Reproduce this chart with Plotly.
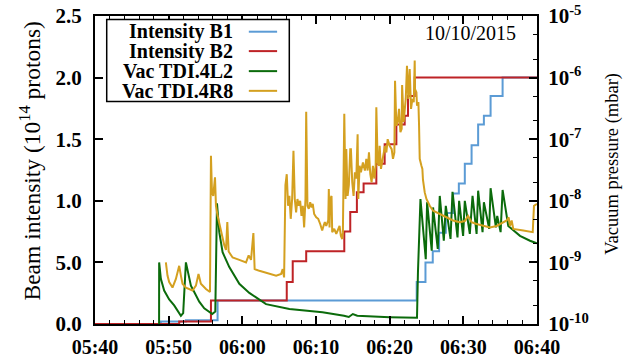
import pandas as pd
import plotly.graph_objects as go

# ---------------- data (minutes after 05:40 on 10/10/2015) ----------------
base_time = "2015-10-10 05:40:00"

b1_min = [0, 8.94, 12.34, 16.64, 43.67, 44.86, 45.85, 46.71, 47.62, 48.61, 49.39,
          50.20, 51.12, 52.01, 52.79, 53.70, 55.33, 60]
b1_val = [0, 0.02, 0.03, 0.19, 0.34, 0.50, 0.59, 0.74, 0.90, 1.06, 1.14,
          1.30, 1.45, 1.62, 1.69, 1.85, 2.00, 1.99]

b2_min = [0, 11.43, 15.74, 26.03, 26.84, 28.67, 33.84, 34.65, 35.55, 36.46, 38.19,
          39.32, 40.91, 42.04, 42.49, 43.40, 60]
b2_val = [0, 0.02, 0.19, 0.34, 0.51, 0.59, 0.75, 0.91, 1.07, 1.14, 1.30,
          1.46, 1.62, 1.69, 1.85, 2.00, 1.99]

l2_min = [8.70, 8.71, 8.94, 9.39, 10.07, 10.75, 11.66, 11.97, 12.34, 13.02, 13.47,
          14.15, 14.83, 15.51, 15.92, 16.33, 16.56, 16.87, 17.32, 18.23, 19.59,
          20.95, 23.22, 26.39, 30.88, 33.80, 34.45, 35.00, 35.60, 40.00, 43.40,
          43.71, 43.84, 44.18, 44.90, 45.08, 45.71, 45.89, 46.53, 46.80, 47.35,
          47.62, 48.26, 48.53, 49.21, 49.43, 49.97, 50.20, 50.88, 51.25, 51.80,
          52.01, 52.61, 52.79, 53.51, 53.70, 54.42, 54.60, 55.06, 55.33, 56.10,
          56.78, 57.69, 59.05, 59.96]
l2_val = [1.0e-10, 1.0e-9, 5.4e-10, 3.5e-10, 2.5e-10, 2.0e-10, 1.36e-10, 1.5e-10, 1.0e-9, 4.2e-10, 3.3e-10,
          2.3e-10, 1.8e-10, 1.57e-10, 1.45e-10, 1.6e-10, 9.1e-9, 3.1e-9, 1.46e-9, 8.4e-10, 4.5e-10,
          3.2e-10, 2.1e-10, 1.75e-10, 1.55e-10, 1.36e-10, 1.3e-10, 1.45e-10, 1.36e-10, 1.29e-10, 1.24e-10,
          1.26e-10, 6.9e-10, 1.07e-8, 1.13e-9, 9.5e-9, 1.55e-9, 7.8e-9, 1.65e-9, 1.2e-8, 2.25e-9,
          8.3e-9, 2.4e-9, 1.4e-8, 2.55e-9, 1.0e-8, 2.7e-9, 1.0e-8, 2.9e-9, 1.2e-8, 2.9e-9,
          1.46e-8, 3.1e-9, 9.5e-9, 3.5e-9, 1.6e-8, 3.7e-9, 5.7e-9, 3.1e-9, 1.5e-8, 3.9e-9,
          3.3e-9, 2.7e-9, 2.25e-9, 2.04e-9]

r8_min = [9.62, 9.84, 10.07, 10.52, 10.98, 11.43, 11.66, 11.88, 12.34, 12.79, 13.24,
          13.70, 14.05, 14.37, 15.06, 15.61, 15.74, 15.88, 16.05, 16.29, 16.42,
          16.64, 17.10, 17.55, 17.78, 17.96, 18.14, 18.68, 19.59, 20.50, 20.86,
          21.18, 21.50, 21.67, 22.31, 23.67, 24.59, 25.27, 25.48, 25.67, 25.85,
          26.03, 26.21, 26.39, 26.57, 26.76, 26.94, 27.12, 27.30, 27.48, 27.66,
          27.85, 28.03, 28.21, 28.39, 28.57, 28.67, 28.84, 29.02, 29.21, 29.39,
          29.56, 29.75, 30.03, 30.30, 30.57, 30.84, 31.02, 31.20, 31.39, 31.66,
          31.74, 31.84, 31.93, 32.11, 32.20, 32.48, 32.75, 33.02, 33.20, 33.37,
          33.56, 33.65, 33.84, 34.01, 34.11, 34.29, 34.46, 34.65, 34.74, 34.92,
          35.10, 35.28, 35.47, 35.65, 35.74, 35.92, 36.10, 36.37, 36.64, 36.83,
          37.01, 37.19, 37.37, 37.55, 37.73, 37.92, 38.10, 38.19, 38.37, 38.54,
          38.64, 38.82, 39.09, 39.36, 39.55, 39.73, 40.00, 40.27, 40.45, 40.64,
          40.73, 40.91, 41.09, 41.27, 41.46, 41.63, 41.69, 41.90, 42.18, 42.35,
          42.53, 42.72, 42.90, 43.08, 43.27, 43.40, 43.44, 43.63, 43.71, 43.90,
          43.99, 44.08, 44.31, 44.44, 44.52, 44.76, 44.99, 45.44, 45.89, 46.80,
          47.71, 48.61, 49.52, 50.20, 50.65, 51.12, 51.80, 52.70, 53.61, 54.52,
          55.41, 55.88, 56.15, 56.33, 56.56, 56.78, 58.14, 59.42, 59.59, 60.00]
r8_val = [1.0e-9, 6.1e-10, 4.8e-10, 3.9e-10, 5.4e-10, 8.8e-10, 6.1e-10, 4.5e-10, 3.9e-10, 3.7e-10, 3.5e-10,
          4.2e-10, 6.5e-10, 4.5e-10, 3.7e-10, 3.3e-10, 5.4e-8, 1.4e-8, 1.2e-8, 2.4e-8, 8.3e-9,
          5.7e-9, 3.1e-9, 1.9e-9, 1.6e-9, 4.5e-9, 1.5e-9, 1.2e-9, 1.1e-9, 1.0e-9, 1.3e-9,
          1.1e-9, 3.0e-9, 7.8e-10, 7.3e-10, 6.5e-10, 6.1e-10, 6.5e-10, 7.8e-10, 5.7e-10, 1.8e-8,
          2.7e-8, 8.3e-9, 1.2e-8, 5.1e-9, 1.07e-8, 6.5e-8, 1.07e-8, 6.5e-9, 1.07e-8, 8.3e-9,
          1.0e-8, 5.7e-9, 8.3e-9, 3.7e-9, 1.07e-8, 2.8e-7, 8.3e-9, 7.4e-9, 9.5e-9, 7.8e-9,
          8.9e-9, 6.1e-9, 5.4e-9, 5.1e-9, 4.2e-9, 3.3e-9, 3.9e-9, 4.5e-9, 3.9e-9, 4.8e-9,
          1.56e-8, 3.7e-9, 1.07e-8, 1.2e-8, 3.1e-9, 3.5e-9, 2.9e-9, 3.5e-9, 3.9e-9, 2.7e-9,
          2.4e-9, 3.1e-9, 2.6e-7, 1.07e-8, 6.9e-8, 1.2e-8, 1.8e-8, 6.9e-8, 6.9e-8, 2.0e-8,
          1.2e-8, 2.9e-8, 2.3e-8, 1.2e-7, 1.07e-8, 3.7e-8, 2.9e-8, 4.2e-8, 3.1e-8, 4.8e-8,
          3.1e-8, 6.1e-8, 2.7e-8, 2.0e-8, 3.7e-8, 2.3e-8, 3.7e-8, 3.3e-7, 4.2e-8, 3.7e-8,
          7.8e-8, 3.3e-8, 4.8e-8, 7.8e-8, 6.1e-8, 1.0e-7, 7.8e-8, 6.9e-8, 4.8e-8, 6.1e-8,
          8.9e-7, 1.66e-7, 1.9e-7, 3.1e-7, 1.3e-7, 1.47e-7, 7.6e-7, 1.9e-7, 4.5e-7, 1.56e-6,
          4.5e-7, 1.38e-6, 3.1e-7, 4.5e-7, 4.0e-7, 1.9e-6, 6.5e-7, 5.8e-7, 3.5e-7, 4.0e-7,
          1.66e-7, 4.8e-8, 3.7e-8, 3.3e-8, 2.2e-8, 1.37e-8, 1.07e-8, 8.3e-9, 6.9e-9, 6.1e-9,
          5.4e-9, 4.8e-9, 4.5e-9, 4.7e-9, 5.7e-9, 4.5e-9, 4.2e-9, 3.9e-9, 3.7e-9, 3.9e-9,
          4.5e-9, 4.8e-9, 5.4e-9, 3.9e-9, 4.8e-9, 3.5e-9, 3.3e-9, 3.1e-9, 8.3e-9, 8.9e-9]

series_names = ["Intensity B1", "Intensity B2", "Vac TDI.4L2", "Vac TDI.4R8"]
series_colors = ["#5b9bd5", "#be2326", "#0b6b0b", "#d4a020"]

left_tickvals = [0.0, 0.5, 1.0, 1.5, 2.0, 2.5]
left_ticktext = ["0.0", "5.0", "1.0", "1.5", "2.0", "2.5"]
right_tickvals = [1e-10, 1e-9, 1e-8, 1e-7, 1e-6, 1e-5]
right_ticktext = ["10<sup>-10</sup>", "10<sup>-9</sup>", "10<sup>-8</sup>",
                  "10<sup>-7</sup>", "10<sup>-6</sup>", "10<sup>-5</sup>"]
date_label = "10/10/2015"


def to_time(mins):
    t0 = pd.Timestamp(base_time)
    return [t0 + pd.Timedelta(minutes=m) for m in mins]


FONT = "Liberation Serif"
fig = go.Figure()
fig.add_trace(go.Scatter(x=to_time(b1_min), y=b1_val, name=series_names[0], mode="lines",
                         line=dict(color=series_colors[0], width=2, shape="hv"), yaxis="y"))
fig.add_trace(go.Scatter(x=to_time(b2_min), y=b2_val, name=series_names[1], mode="lines",
                         line=dict(color=series_colors[1], width=2, shape="hv"), yaxis="y"))
fig.add_trace(go.Scatter(x=to_time(l2_min), y=l2_val, name=series_names[2], mode="lines",
                         line=dict(color=series_colors[2], width=2), yaxis="y2"))
fig.add_trace(go.Scatter(x=to_time(r8_min), y=r8_val, name=series_names[3], mode="lines",
                         line=dict(color=series_colors[3], width=2), yaxis="y2"))

fig.update_layout(
    width=633, height=360,
    margin=dict(l=95, r=96, t=16, b=36),
    plot_bgcolor="white", paper_bgcolor="white",
    showlegend=False,
    font=dict(family=FONT, color="black"),
    xaxis=dict(
        type="date", automargin=False, ticklabeloverflow="allow",
        range=[pd.Timestamp(base_time), pd.Timestamp(base_time) + pd.Timedelta(minutes=60)],
        tickformat="%H:%M", dtick=600000, tick0=pd.Timestamp(base_time),
        ticks="inside", ticklen=8, tickwidth=1.5, tickcolor="black",
        minor=dict(ticks="inside", ticklen=4, dtick=120000, tickcolor="black", tickwidth=1),
        showline=True, linecolor="black", linewidth=2, mirror="ticks",
        showgrid=False, zeroline=False, ticklabelstandoff=4,
        tickfont=dict(family=FONT, size=20, color="black", weight="bold"),
    ),
    yaxis=dict(
        automargin=False, ticklabeloverflow="allow",
        range=[0, 2.5], tickvals=left_tickvals, ticktext=left_ticktext,
        ticks="inside", ticklen=8, tickwidth=1.5, tickcolor="black",
        showline=True, linecolor="black", linewidth=2, mirror=False,
        showgrid=False, zeroline=False, ticklabelstandoff=7,
        tickfont=dict(family=FONT, size=21, color="black", weight="bold"),
    ),
    yaxis2=dict(
        automargin=False, ticklabeloverflow="allow",
        type="log", range=[-10, -5], overlaying="y", side="right",
        tickvals=right_tickvals, ticktext=right_ticktext,
        ticks="inside", ticklen=8, tickwidth=1.5, tickcolor="black",
        minor=dict(ticks="inside", ticklen=4, dtick="D2", tickcolor="black", tickwidth=1),
        showline=True, linecolor="black", linewidth=2,
        showgrid=False, zeroline=False, ticklabelstandoff=5,
        tickfont=dict(family=FONT, size=21, color="black", weight="bold"),
    ),
)

# axis titles
fig.add_annotation(xref="paper", yref="paper", x=-0.146, y=0.529, textangle=-90,
                   text="Beam intensity (10<sup>14</sup> protons)", showarrow=False,
                   font=dict(family=FONT, size=23.5, color="black"), xanchor="center", yanchor="middle")
fig.add_annotation(xref="paper", yref="paper", x=1.169, y=0.519, textangle=-90,
                   text="Vacuum pressure (mbar)", showarrow=False,
                   font=dict(family=FONT, size=18.5, color="black"), xanchor="center", yanchor="middle")
# date label
fig.add_annotation(xref="paper", yref="paper", x=0.957, y=0.945, text=date_label, showarrow=False,
                   font=dict(family=FONT, size=20, color="black"), xanchor="right", yanchor="middle")

# gnuplot-style legend: box, right-aligned labels, line samples on the right
fig.add_shape(type="rect", xref="paper", yref="paper", x0=0.0265, x1=0.4396, y0=0.722, y1=0.989,
              line=dict(color="black", width=1.5), fillcolor="white", layer="above")
row_y = [0.949, 0.886, 0.821, 0.757]
for name, color, yy in zip(series_names, series_colors, row_y):
    fig.add_annotation(xref="paper", yref="paper", x=0.3167, y=yy, text=name, showarrow=False,
                       font=dict(family=FONT, size=20, color="black", weight="bold"),
                       xanchor="right", yanchor="middle")
    fig.add_shape(type="line", xref="paper", yref="paper", x0=0.348, x1=0.412, y0=yy, y1=yy,
                  line=dict(color=color, width=2), layer="above")

# remove the browser's default 8px body margin so the figure sits at the window origin
fig.write_html("out.html", config={"displayModeBar": False},
               post_script="document.body.style.margin='0px';")
